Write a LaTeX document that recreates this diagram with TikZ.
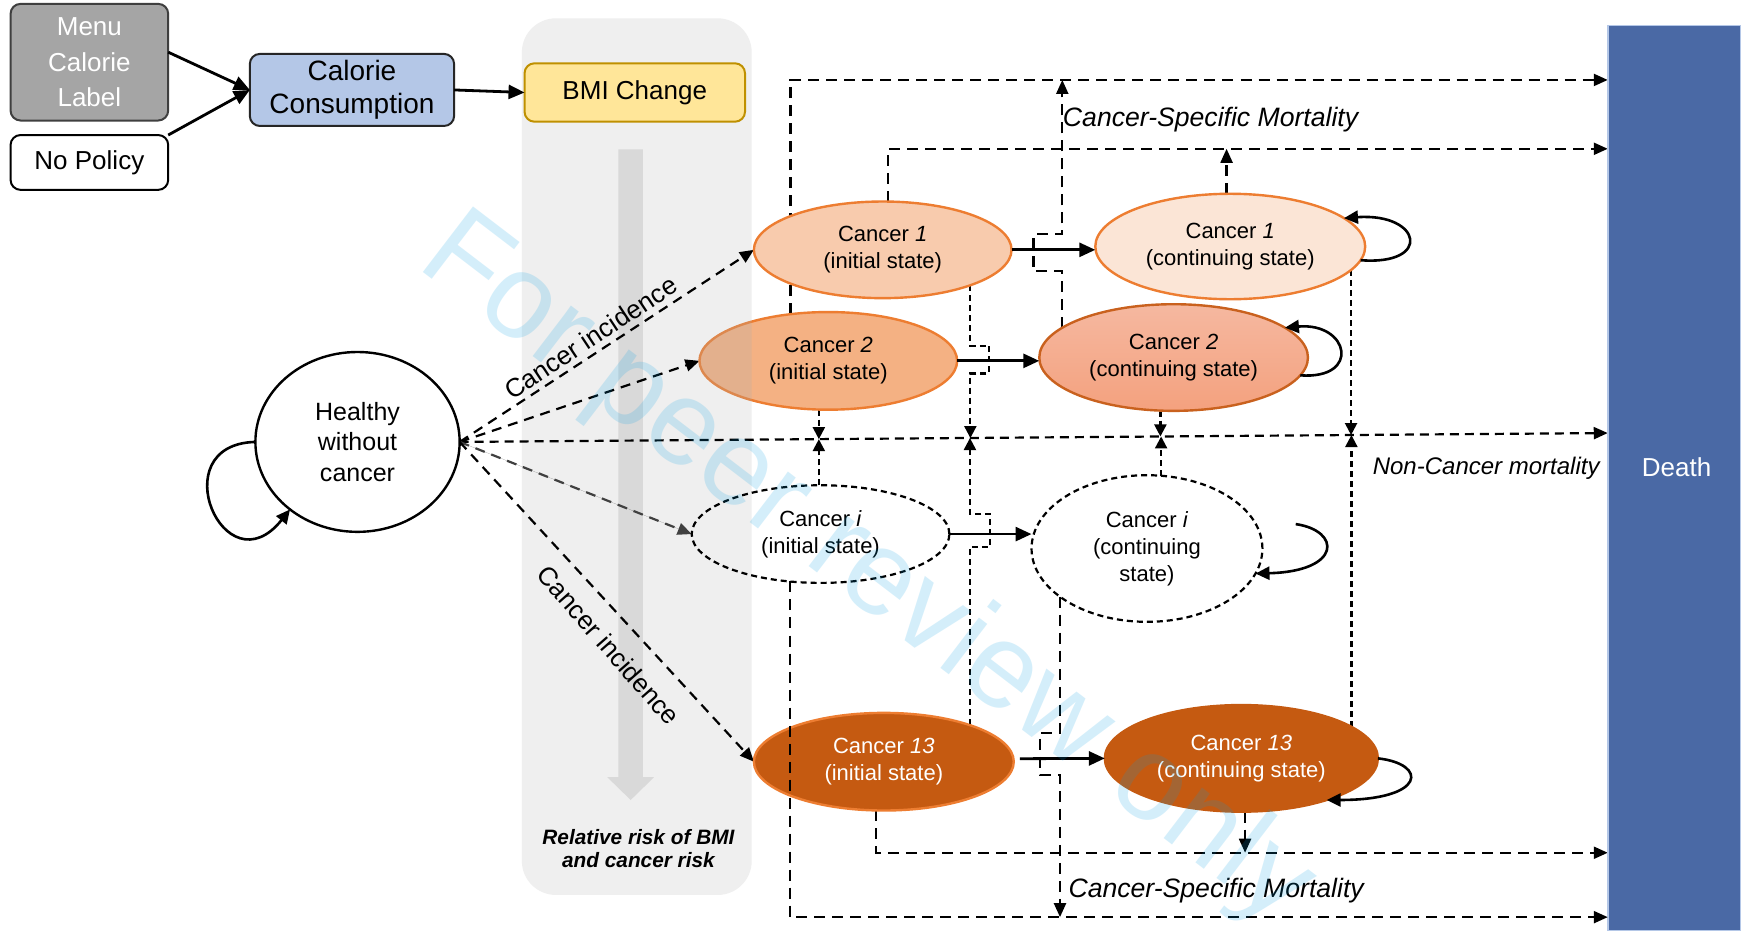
\documentclass[tikz,border=0pt]{standalone}
\usepackage{fontspec}
\setmainfont{Liberation Sans}
\usetikzlibrary{arrows.meta,shapes.geometric,calc}
\pgfdeclarelayer{back}
\pgfdeclarelayer{links}
\pgfdeclarelayer{front}
\pgfsetlayers{back,links,main,front}

\definecolor{menugray}{HTML}{A5A5A5}
\definecolor{menuedge}{HTML}{3F3F3F}
\definecolor{ccblue}{HTML}{B4C7E7}
\definecolor{bmiyel}{HTML}{FFE699}
\definecolor{bmiedge}{HTML}{BF9000}
\definecolor{panelgray}{HTML}{EFEFEF}
\definecolor{arrowgray}{HTML}{D9D9D9}
\definecolor{peachA}{HTML}{F8CBAD}
\definecolor{peachB}{HTML}{FBE5D6}
\definecolor{peachC}{HTML}{F4B183}
\definecolor{salmonTop}{HTML}{F5B8A0}
\definecolor{salmonBot}{HTML}{F4A17E}
\definecolor{rust}{HTML}{C55A11}
\definecolor{rustedge}{HTML}{C9611E}
\definecolor{orangeedge}{HTML}{ED7D31}
\definecolor{deathblue}{HTML}{4A69A5}
\definecolor{wmblue}{RGB}{0,160,230}

\tikzset{
  basebox/.style={rectangle, rounded corners=5pt, line width=1pt, align=center,
    inner sep=0pt, outer sep=0pt, font=\fontsize{13}{16}\selectfont},
  stateell/.style={ellipse, inner sep=0pt, outer sep=0pt, align=center,
    line width=1.2pt, font=\fontsize{11}{13.5}\selectfont},
  solidar/.style={line width=1.4pt, -{Triangle[length=8pt,width=7pt]}},
  loopar/.style={line width=1.3pt, -{Triangle[length=7pt,width=6.5pt]}},
  csm/.style={line width=1.1pt, dash pattern=on 5.5pt off 3.5pt,
    -{Triangle[length=7pt,width=6pt]}},
  ncv/.style={line width=1.1pt, dash pattern=on 3pt off 2pt,
    -{Triangle[length=6pt,width=6pt]}},
  ncl/.style={line width=1.1pt, dash pattern=on 4.5pt off 3pt,
    -{Triangle[length=7pt,width=6pt]}},
  inc/.style={line width=1.1pt, dash pattern=on 5pt off 3.5pt,
    -{Triangle[length=7pt,width=6pt]}},
  lbl/.style={inner sep=0pt, font=\fontsize{13}{15}\selectfont},
}

\begin{document}
\begin{tikzpicture}[x=0.555pt, y=-0.555pt]
\useasboundingbox (0,0) rectangle (1568,838);

% ---------- background: page, BMI panel, risk arrow ----------
\begin{pgfonlayer}{back}
  \fill[white] (0,0) rectangle (1568,838);
  \fill[panelgray, rounded corners=17pt] (470,16.5) rectangle (677,806);
  \fill[arrowgray] (557,134.5) -- (579,134.5) -- (579,700) -- (589,700)
    -- (568,720.5) -- (547,700) -- (557,700) -- cycle;
\end{pgfonlayer}

% ---------- policy and BMI boxes ----------
\node[basebox, fill=menugray, draw=menuedge, text=white,
  minimum width=78.8pt, minimum height=58.3pt,
  font=\fontsize{13}{17.8}\selectfont] (Menu) at (80.5,56) {Menu\\Calorie\\Label};
\node[basebox, fill=white, draw=black, minimum width=78.8pt, minimum height=27.4pt]
  (NoPol) at (80.5,146.3) {No Policy};
\node[basebox, fill=ccblue, draw=black!85, minimum width=102.1pt, minimum height=36pt,
  font=\fontsize{14}{16.5}\selectfont] (CC) at (317,81) {Calorie\\Consumption};
\node[basebox, fill=bmiyel, draw=bmiedge, minimum width=110.2pt, minimum height=29.2pt]
  (BMI) at (571.7,83.3) {BMI Change};

\draw[solidar] ([yshift=5pt]Menu.east) -- (CC.west);
\draw[solidar] (NoPol.north east) -- (CC.west);
\draw[solidar] (CC.east) -- (BMI.west);

% ---------- states ----------
\node[stateell, draw=black, fill=white, minimum width=102.1pt, minimum height=89.9pt,
  font=\fontsize{12.5}{15.2}\selectfont] (H) at (322,398) {Healthy\\without\\cancer};

\node[stateell, fill=peachA, draw=orangeedge, minimum width=128.8pt, minimum height=48.3pt]
  (C1i) at (795,225) {Cancer \textit{1}\\(initial state)};
\node[stateell, fill=peachB, draw=orangeedge, minimum width=134.9pt, minimum height=52.7pt]
  (C1c) at (1108,222) {Cancer \textit{1}\\(continuing state)};
\node[stateell, fill=peachC, draw=orangeedge, minimum width=128.8pt, minimum height=48.8pt]
  (C2i) at (746,325) {Cancer \textit{2}\\(initial state)};
\node[stateell, top color=salmonTop, bottom color=salmonBot, draw=rustedge,
  minimum width=134.3pt, minimum height=53.3pt]
  (C2c) at (1057,322) {Cancer \textit{2}\\(continuing state)};
\node[stateell, draw=black, dash pattern=on 3pt off 2pt, line width=1.1pt,
  minimum width=128.8pt, minimum height=48.8pt]
  (Cii) at (739,481) {Cancer \textit{i}\\(initial state)};
\node[stateell, draw=black, dash pattern=on 3pt off 2pt, line width=1.1pt,
  minimum width=115.4pt, minimum height=73.3pt]
  (Cic) at (1033,494) {Cancer \textit{i}\\(continuing\\state)};
\node[stateell, fill=rust, draw=orangeedge, text=white, minimum width=129.9pt, minimum height=48.8pt]
  (C13i) at (796,686) {Cancer \textit{13}\\(initial state)};
\node[stateell, fill=rust, draw=rust, text=white, minimum width=136.5pt, minimum height=53.3pt]
  (C13c) at (1118,683) {Cancer \textit{13}\\(continuing state)};

% panel tint over the part of Cancer 2 that lies on it
\begin{scope}
  \clip (470,16.5) rectangle (677,806);
  \fill[black!32, opacity=.24] (C2i.center) ellipse [x radius=65pt, y radius=25pt];
\end{scope}

% ---------- death ----------
\node[rectangle, fill=deathblue, draw=ccblue, line width=0.8pt, inner sep=0pt, outer sep=0pt,
  minimum width=66.6pt, minimum height=452.3pt, anchor=north west] (Death) at (1448,23) {};
\node[lbl, text=white] (DeathTxt) at (1510,421) {Death};

% ---------- junction levels ----------
\coordinate (yTop) at (0,72);
\coordinate (ySec) at (0,134);
\coordinate (yBot) at (0,768);
\coordinate (yLow) at (0,826);
\coordinate (yNC) at (0,390);
\coordinate (nc1) at (737,395.5);
\coordinate (nc2) at (872,394.5);
\coordinate (nc3) at (1045,393.1);
\coordinate (nc4) at (1215,391.8);

\begin{pgfonlayer}{links}
  % cancer-specific mortality, upper
  \draw[csm] (C2i.129) |- (Death.west |- yTop);
  \draw[csm] (C2c.165.8) -- ++(0,-51.2) -- ++(-26,0) -- ++(0,-33) -- ++(26,0)
    -- (C2c.165.8 |- yTop);
  \draw[csm] (C1i.84.7) |- (Death.west |- ySec);
  \draw[csm] (C1c.94.8) -- (C1c.94.8 |- ySec);
  % cancer-specific mortality, lower
  \draw[csm] (C13i.-99.1) |- (Death.west |- yBot);
  \draw[csm] (C13c.-86.4) -- (C13c.-86.4 |- yBot);
  \draw[csm] (Cic.209.2) -- ++(0,122.4) -- ++(-18,0) -- ++(0,38) -- ++(18,0)
    -- (Cic.209.2 |- yLow);
  % non-cancer mortality
  \draw[ncl] (H.east) -- (Death.west |- yNC);
  \draw[ncv] (C2i.-101.6) -- (C2i.-101.6 |- nc1);
  \draw[ncv] (Cii.92.6) -- (Cii.92.6 |- nc1);
  \draw[ncv] (C1i.-22.9) -- ++(0,54.5) -- ++(17,0) -- ++(0,25) -- ++(-17,0)
    -- (C1i.-22.9 |- nc2);
  \draw[ncv] (C13i.23.8) -- ++(0,-160.5) -- ++(18,0) -- ++(0,-30) -- ++(-18,0)
    -- (C13i.23.8 |- nc2);
  \draw[ncv] (C2c.-104.1) -- (C2c.-104.1 |- nc3);
  \draw[ncv] (Cic.79.6) -- (Cic.79.6 |- nc3);
  \draw[ncv] (C1c.-11.9) -- (C1c.-11.9 |- nc4);
  \draw[ncv] (C13c.16.9) -- (C13c.16.9 |- nc4);
  % cancer incidence
  \draw[inc] (H.east) -- (C1i.west);
  \draw[inc] (H.east) -- (C2i.west);
  \draw[inc, draw=black!75, fill=black!75] (H.east) -- (Cii.west);
  \draw[inc] (H.east) -- (C13i.west);
\end{pgfonlayer}

% lowest mortality route runs over Cancer 13
\draw[csm] (Cii.237.8) |- (Death.west |- yLow);

% ---------- transitions initial -> continuing ----------
\draw[solidar] (C1i.east) -- (C1c.west |- C1i.east);
\draw[solidar] (C2i.east) -- (C2c.west |- C2i.east);
\draw[solidar] (Cii.east) -- (Cic.west |- Cii.east);
\draw[solidar] ([xshift=3pt,yshift=1.5pt]C13i.east) -- (C13c.west);

% ---------- self loops ----------
\draw[loopar] (H.west) .. controls +(-85,2) and +(-59,74) .. (H.225);
\draw[loopar] (C1c.-6) .. controls +(65,5) and +(70,-5) .. (C1c.14.4);
\draw[loopar] (C2c.-8) .. controls +(55,4) and +(58,-5) .. (C2c.15);
\coordinate (CicLoop) at ($(Cic.east)+(30,-22)$);
\draw[loopar] (CicLoop) .. controls +(41,6) and +(78,-2) .. (Cic.-13.5);
\draw[loopar] (C13c.east) .. controls +(45,5) and +(90,0) .. (C13c.-26);

% ---------- labels ----------
\node[lbl, rotate=33.5] (incUp) at (532,304) {Cancer incidence};
\node[lbl, rotate=-48.7] (incDn) at (548,581) {Cancer incidence};
\node[lbl, anchor=west, font=\fontsize{13.3}{15}\selectfont\itshape] (csmTop) at (957,108)
  {Cancer-Specific Mortality};
\node[lbl, anchor=west, font=\fontsize{13.3}{15}\selectfont\itshape] (csmBot) at (962,802)
  {Cancer-Specific Mortality};
\node[lbl, anchor=east, font=\fontsize{12}{14}\selectfont\itshape] (ncLab) at (1441,422)
  {Non-Cancer mortality};
\node[lbl, align=center, font=\fontsize{10.4}{11.6}\selectfont\bfseries\itshape] (rr)
  at (575,764) {Relative risk of BMI\\and cancer risk};

% ---------- watermark ----------
\begin{pgfonlayer}{front}
  \node[inner sep=0pt, text=wmblue, text opacity=0.17, rotate=-37.4,
    font=\fontsize{60}{60}\selectfont] (wm) at (780,515) {For peer review only};
\end{pgfonlayer}
\end{tikzpicture}
\end{document}
